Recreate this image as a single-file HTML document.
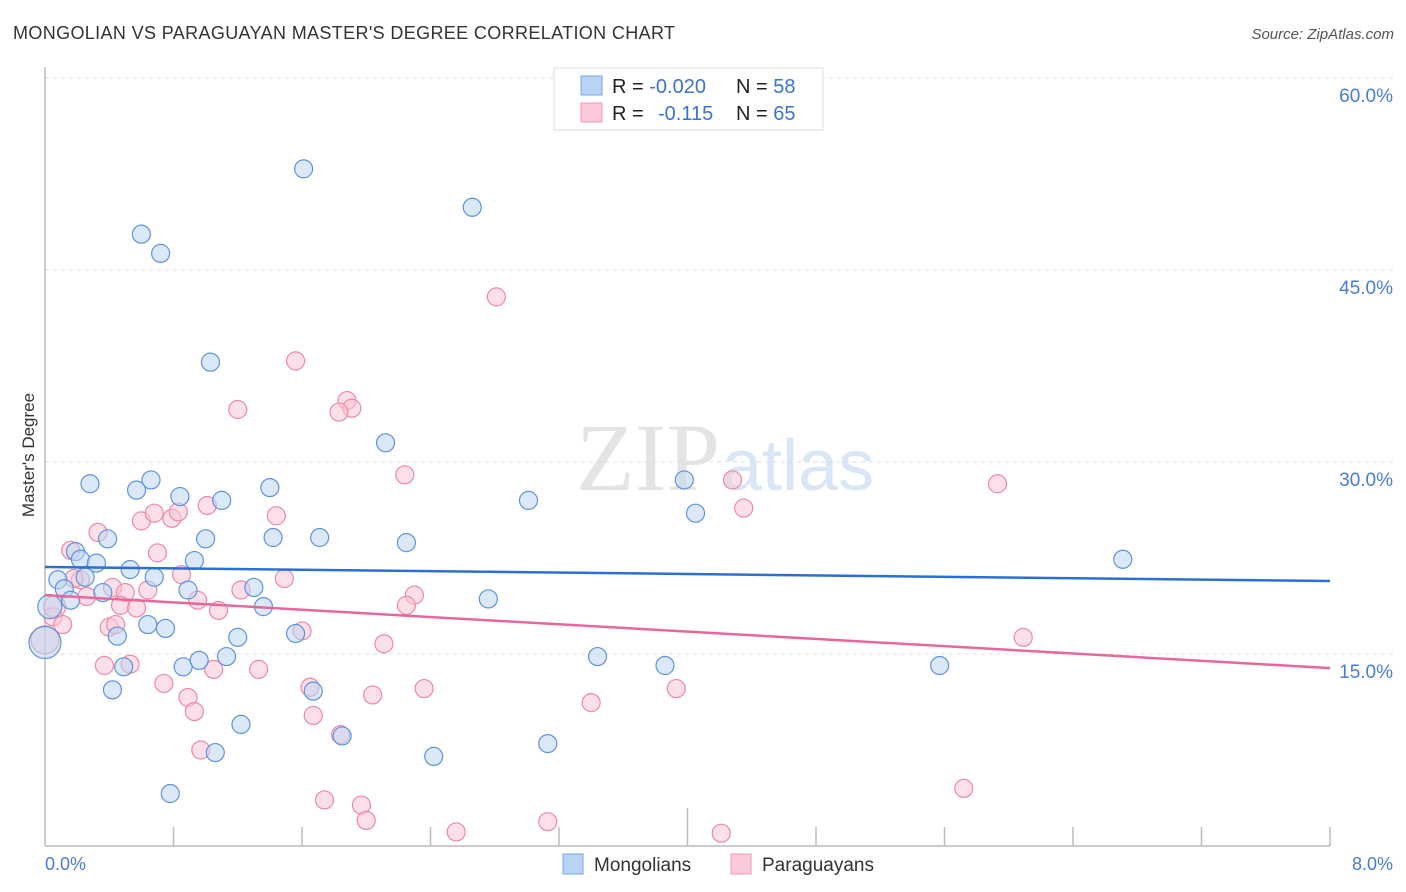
<!DOCTYPE html>
<html><head><meta charset="utf-8">
<style>
body{margin:0;background:#fff;font-family:"Liberation Sans",sans-serif;}
svg{display:block}
</style></head>
<body>
<svg id="chart" width="1406" height="892" xmlns="http://www.w3.org/2000/svg">
<text x="13" y="39" font-size="18" fill="#333" textLength="662">MONGOLIAN VS PARAGUAYAN MASTER'S DEGREE CORRELATION CHART</text>
<text x="1394" y="39" font-size="15" fill="#555" font-style="italic" text-anchor="end">Source: ZipAtlas.com</text>
<text x="720" y="490" font-size="96" fill="#e4e4e4" text-anchor="end" font-family="Liberation Serif">ZIP</text>
<text x="722" y="490" font-size="72" fill="#d8e6f5">atlas</text>
<g id="grid"></g>
<g id="axes"></g>
<g id="marks"></g>
<text x="34" y="455" font-size="17" fill="#333" text-anchor="middle" transform="rotate(-90 34 455)">Master's Degree</text>
<text x="45" y="870" font-size="18" fill="#4a7cd6">0.0%</text>
<text x="1393" y="870" font-size="18" fill="#4a7cd6" text-anchor="end">8.0%</text>
<g>
<rect x="554" y="68" width="269" height="62" fill="#fff" stroke="#ddd"/>
<rect x="581" y="76" width="21" height="19" fill="#b8d3f3" stroke="#7aa5e0"/>
<rect x="581" y="103" width="21" height="19" fill="#fbc9d8" stroke="#ef9ab5"/>
<text x="612" y="93" font-size="20" fill="#222">R = <tspan fill="#3b73d1">-0.020</tspan></text>
<text x="736" y="93" font-size="20" fill="#222">N = <tspan fill="#3b73d1">58</tspan></text>
<text x="612" y="120" font-size="20" fill="#222">R = <tspan x="658" fill="#3b73d1">-0.115</tspan></text>
<text x="736" y="120" font-size="20" fill="#222">N = <tspan fill="#3b73d1">65</tspan></text>
</g>
<g>
<rect x="563" y="854" width="20" height="20" fill="#b8d3f3" stroke="#7aa5e0"/>
<text x="594" y="871" font-size="19" fill="#333">Mongolians</text>
<rect x="731" y="854" width="20" height="20" fill="#fbc9d8" stroke="#ef9ab5"/>
<text x="762" y="871" font-size="19" fill="#333">Paraguayans</text>
</g>
</svg>
<script>
const yTicks=[15,30,45,60];
const yTickLabels=["15.0%","30.0%","45.0%","60.0%"];
const xTicks=[0.8,1.6,2.4,3.2,4.0,4.8,5.6,6.4,7.2,8.0];
const monX=[1.61,2.66,0.60,0.72,1.03,2.12,0.28,0.66,0.57,0.84,1.10,1.40,3.01,3.98,4.05,0.39,1.00,1.42,1.71,2.25,0.19,0.22,0.32,0.53,0.68,0.93,0.08,0.25,0.12,0.16,0.36,0.89,1.30,1.36,2.76,6.71,0.64,0.75,0.45,1.20,1.56,0.86,0.96,1.13,0.49,3.44,3.86,5.57,0.42,1.67,1.22,1.85,3.13,1.06,2.42,0.78,0.03,0.0];
const monY=[52.9,49.9,47.8,46.3,37.8,31.5,28.3,28.6,27.8,27.3,27.0,28.0,27.0,28.6,26.0,24.0,24.0,24.1,24.1,23.7,23.0,22.4,22.1,21.6,21.0,22.3,20.8,21.0,20.1,19.2,19.8,20.0,20.2,18.7,19.3,22.4,17.3,17.0,16.4,16.3,16.6,14.0,14.5,14.8,14.0,14.8,14.1,14.1,12.2,12.1,9.5,8.6,8.0,7.3,7.0,4.1,18.7,15.9];
const monSize=monX.map((v,i)=>i===57?16:(i===56?12:9));
const parX=[2.81,1.56,1.20,1.88,1.91,1.83,2.24,5.93,4.28,4.35,0.60,0.68,0.79,0.83,1.01,1.44,0.33,0.16,0.70,0.22,0.18,0.42,0.85,1.49,0.50,0.64,1.22,0.26,0.95,2.30,2.25,0.47,0.57,1.08,0.05,0.11,0.40,0.44,1.60,6.09,2.11,0.37,0.53,1.05,1.33,0.74,1.65,2.36,3.93,0.89,2.04,0.93,1.67,3.40,1.84,0.97,5.72,1.74,1.97,2.00,2.56,3.13,4.21,0.0,0.06];
const parY=[42.9,37.9,34.1,34.8,34.2,33.9,29.0,28.3,28.6,26.4,25.4,26.0,25.6,26.1,26.6,25.8,24.5,23.1,22.9,20.8,20.9,20.2,21.2,20.9,19.8,20.0,20.0,19.5,19.2,19.6,18.8,18.8,18.6,18.4,17.9,17.3,17.1,17.3,16.8,16.3,15.8,14.1,14.2,13.8,13.8,12.7,12.4,12.3,12.3,11.6,11.8,10.5,10.2,11.2,8.7,7.5,4.5,3.6,3.2,2.0,1.1,1.9,1.0,16.1,18.7];
const parSize=parX.map((v,i)=>i===63?14:(i===64?11:9));
const trendX=[0,8];
const monTrend=[21.8,20.7];
const parTrend=[19.6,13.9];
const NS="http://www.w3.org/2000/svg";
const X0=45,X1=1330,Y0=846,PPU=192/15;
const xs=v=>X0+(X1-X0)*v/8;
const ys=v=>Y0-v*PPU;
function mk(tag,attrs,parent){const e=document.createElementNS(NS,tag);for(const k in attrs)e.setAttribute(k,attrs[k]);parent.appendChild(e);return e;}
const grid=document.getElementById('grid'),axes=document.getElementById('axes'),marks=document.getElementById('marks');
yTicks.forEach((t,i)=>{
 const l=mk('line',{x1:X0,x2:1393,y1:ys(t),y2:ys(t),stroke:'#ddd','stroke-dasharray':'4,4'},grid);
 
 
 const tx=mk('text',{x:1393,y:ys(t)+24,'font-size':19,fill:'#4a7cd6','text-anchor':'end'},grid);
 tx.textContent=yTickLabels[i];
 
 
});
const ax=mk('line',{x1:X0,x2:X1,y1:Y0,y2:Y0,stroke:'#bbb','stroke-width':1.5},axes);


const ay=mk('line',{x1:X0,x2:X0,y1:67,y2:Y0,stroke:'#bbb','stroke-width':1.5},axes);


xTicks.forEach(t=>{
 const l=mk('line',{x1:xs(t),x2:xs(t),y1:Math.abs(t-4)<0.01?808:827,y2:Y0,stroke:'#bbb','stroke-width':1.5},axes);
 
 
});
function pts(X,Y,S,fill,stroke,name){
 X.forEach((v,i)=>{
  const c=mk('circle',{cx:xs(v),cy:ys(Y[i]),r:S[i],fill:fill,'fill-opacity':0.55,stroke:stroke,'stroke-width':1.2},marks);
  
  
 });
}
pts(parX,parY,parSize,'#fbc4d4','#ea8aa8','paraguayan-point');
pts(monX,monY,monSize,'#bcd5f3','#5f93dc','mongolian-point');
const t1=mk('line',{x1:xs(trendX[0]),x2:xs(trendX[1]),y1:ys(monTrend[0]),y2:ys(monTrend[1]),stroke:'#2a6fd6','stroke-width':2.5},marks);


const t2=mk('line',{x1:xs(trendX[0]),x2:xs(trendX[1]),y1:ys(parTrend[0]),y2:ys(parTrend[1]),stroke:'#e8679a','stroke-width':2.5},marks);


</script>
</body></html>
